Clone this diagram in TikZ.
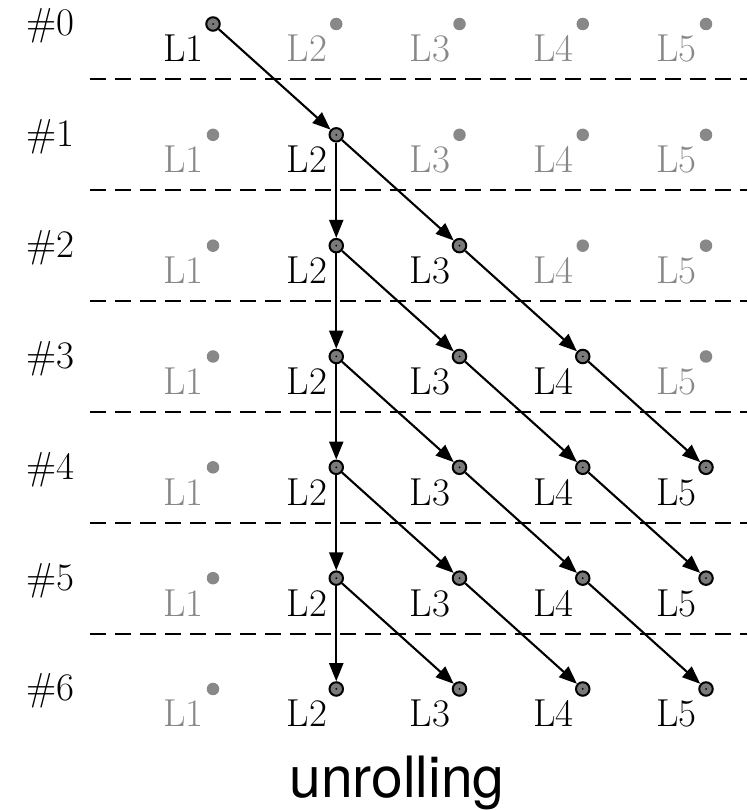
\documentclass[tikz,border=0pt]{standalone}
\usepackage{fontspec}
\newfontfamily\hvfont{TeX Gyre Heros}
\usetikzlibrary{arrows.meta}
\definecolor{inact}{HTML}{888888}
\definecolor{actfill}{HTML}{7A7A7A}
\begin{document}
\begin{tikzpicture}[x=1pt,y=-1pt,
  lbl/.style={font=\fontsize{39}{41}\selectfont, inner sep=0pt},
  idle/.style={circle, fill=inact, minimum size=12.5pt, inner sep=0pt},
  live/.style={circle, fill=actfill, draw=black, line width=2pt, minimum size=13.5pt, inner sep=0pt,
    path picture={\fill[black] (path picture bounding box.center) circle (1pt);}},
  flow/.style={-{Triangle[length=18pt,width=14pt]}, line width=2.1pt},
  sep/.style={dash pattern=on 16pt off 9pt, line width=2.1pt}]
\useasboundingbox (0,0) rectangle (747,810);
% separators
\foreach \r in {0,...,5}{
  \pgfmathsetmacro\yy{79.4+\r*110.83}
  \draw[sep] (90,\yy) coordinate (sa\r) -- (747,\yy) coordinate (sb\r);
}
% rows
\foreach \r in {0,...,6}{
  \pgfmathsetmacro\yy{24+\r*110.83}
  \node[lbl, anchor=base west] (h\r) at (26,\yy+12) {\#\r};
  \foreach \c in {1,...,5}{
    \pgfmathsetmacro\xx{213+(\c-1)*123.25}
    \pgfmathtruncatemacro\act{(\r==0 && \c==1) || (\r>=1 && \c>=2 && \c<=\r+1) ? 1 : 0}
    \ifnum\act=1
      \node[live] (n-\r-\c) at (\xx,\yy) {};
      \node[lbl, anchor=base east] (t-\r-\c) at (\xx-9,\yy+38) {L\c};
    \else
      \node[idle] (n-\r-\c) at (\xx,\yy) {};
      \node[lbl, anchor=base east, text=inact] (t-\r-\c) at (\xx-9,\yy+38) {L\c};
    \fi
  }
}
% connectors
\draw[flow] (n-0-1) -- (n-1-2);
\foreach \r in {1,...,5}{
  \pgfmathtruncatemacro\nr{\r+1}
  \draw[flow] (n-\r-2) -- (n-\nr-2);
  \pgfmathtruncatemacro\last{min(\r+1,4)}
  \foreach \c in {2,...,\last}{
    \pgfmathtruncatemacro\nc{\c+1}
    \draw[flow] (n-\r-\c) -- (n-\nr-\nc);
  }
}
\node[font=\hvfont\fontsize{57}{60}\selectfont, anchor=base, inner sep=0pt] (cap) at (397,797) {unrolling};
\end{tikzpicture}
\end{document}
